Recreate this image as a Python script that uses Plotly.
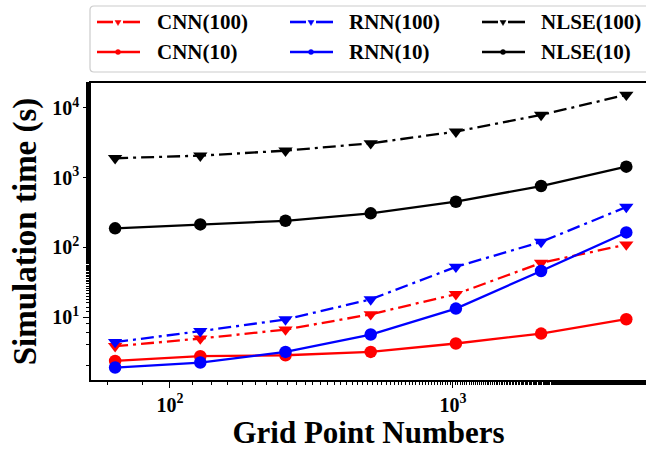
import plotly.graph_objects as go

grid_points = [64, 128, 256, 512, 1024, 2048, 4096]

cnn_100 = [3.84, 4.94, 6.65, 11.0, 21.4, 60, 110]
cnn_10 = [2.36, 2.76, 2.85, 3.18, 4.2, 5.83, 9.36]
rnn_100 = [4.4, 6.3, 9.3, 18.0, 52.7, 120, 380]
rnn_10 = [1.90, 2.24, 3.18, 5.65, 13.3, 46, 164]
nlse_100 = [1900, 2070, 2440, 3110, 4570, 7940, 15400]
nlse_10 = [188, 214, 241, 308, 452, 759, 1440]

x_tick_vals = [100, 1000]
x_tick_text = ["10<sup>2</sup>", "10<sup>3</sup>"]
y_tick_vals = [10, 100, 1000, 10000]
y_tick_text = ["10<sup>1</sup>", "10<sup>2</sup>", "10<sup>3</sup>", "10<sup>4</sup>"]

FONT = "Liberation Serif"
DASHDOT = "13px,5px,3px,5px"

# (name, values, colour, dashed?, symbol, legend column, legend row)
series = [
    ("CNN(100)", cnn_100, "red", True, "triangle-down", 0, 0),
    ("RNN(100)", rnn_100, "blue", True, "triangle-down", 1, 0),
    ("NLSE(100)", nlse_100, "black", True, "triangle-down", 2, 0),
    ("CNN(10)", cnn_10, "red", False, "circle", 0, 1),
    ("RNN(10)", rnn_10, "blue", False, "circle", 1, 1),
    ("NLSE(10)", nlse_10, "black", False, "circle", 2, 1),
]

fig = go.Figure()
for name, vals, color, dashed, sym, col, row in series:
    fig.add_trace(go.Scatter(
        x=grid_points, y=vals, name=name, mode="lines+markers", showlegend=False,
        line=dict(color=color, width=2.3, dash=(DASHDOT if dashed else "solid")),
        marker=dict(symbol=sym, size=12.5, color=color, line=dict(width=0)),
    ))

axis_common = dict(
    type="log",
    showline=True, linecolor="black", linewidth=1.5,
    showgrid=False, zeroline=False,
    ticks="outside", ticklen=6, tickwidth=1, tickcolor="black",
    tickfont=dict(family=FONT, size=20, color="black", weight="bold"),
    minor=dict(ticks="outside", ticklen=3.5, tickwidth=1, tickcolor="black", showgrid=False),
)

fig.update_xaxes(
    **axis_common, mirror=True,
    range=[1.721, 3.682],
    tickmode="array", tickvals=x_tick_vals, ticktext=x_tick_text,
    title=dict(text="Grid Point Numbers", standoff=8,
               font=dict(family=FONT, size=31, color="black", weight="bold")),
)
fig.update_yaxes(
    **axis_common, mirror=False,
    range=[0.1, 4.357],
    tickmode="array", tickvals=y_tick_vals, ticktext=y_tick_text,
    title=dict(text="Simulation time (s)", standoff=6,
               font=dict(family=FONT, size=33, color="black", weight="bold")),
)

# ---- hand-drawn legend (frame runs off the right edge, as in the reference) ----
PX0, PW, PY0, PH = 91, 555, 380, 297  # plot area origin / size in pixels


def px(xp):
    return (xp - PX0) / PW


def py(yp):
    return (PY0 - yp) / PH


shapes = []
annotations = []

x0, x1, y0, y1 = px(90), px(680), py(72), py(6)
rx, ry = 4 / PW, 4 / PH
frame = (f"M{x0+rx},{y1} L{x1},{y1} L{x1},{y0} L{x0+rx},{y0} "
         f"Q{x0},{y0} {x0},{y0+ry} L{x0},{y1-ry} Q{x0},{y1} {x0+rx},{y1} Z")
shapes.append(dict(type="path", path=frame, xref="paper", yref="paper",
                   line=dict(color="#cccccc", width=1.2), fillcolor="white", layer="below"))

col_sym_x = [97, 290, 482]
col_txt_x = [155, 347, 539]
row_y = [22, 52]
SYM_LEN = 43
for name, vals, color, dashed, sym, col, row in series:
    sx, yy = col_sym_x[col], row_y[row]
    mx = sx + 21
    if dashed:
        for a, b in [(sx, sx + 16), (sx + 26, sx + SYM_LEN)]:
            shapes.append(dict(type="line", xref="paper", yref="paper",
                               x0=px(a), x1=px(b), y0=py(yy), y1=py(yy),
                               line=dict(color=color, width=2.6)))
        tri = (f"M{px(mx-3)},{py(yy-1.5)} L{px(mx+3)},{py(yy-1.5)} "
               f"L{px(mx)},{py(yy+3.5)} Z")
        shapes.append(dict(type="path", path=tri, xref="paper", yref="paper",
                           line=dict(color=color, width=0.5), fillcolor=color))
    else:
        shapes.append(dict(type="line", xref="paper", yref="paper",
                           x0=px(sx), x1=px(sx + SYM_LEN), y0=py(yy), y1=py(yy),
                           line=dict(color=color, width=2.6)))
        shapes.append(dict(type="circle", xref="paper", yref="paper",
                           x0=px(mx - 2.5), x1=px(mx + 2.5), y0=py(yy + 2.5), y1=py(yy - 2.5),
                           line=dict(color=color, width=0.5), fillcolor=color))
    annotations.append(dict(text=name, xref="paper", yref="paper",
                            x=px(col_txt_x[col]), y=py(yy), xanchor="left", yanchor="middle",
                            showarrow=False,
                            font=dict(family=FONT, size=21, color="black", weight="bold")))

fig.update_layout(
    width=646, height=450,
    margin=dict(l=91, r=0, t=83, b=70, autoexpand=False),
    paper_bgcolor="white", plot_bgcolor="white",
    font=dict(family=FONT, color="black"),
    showlegend=False,
    shapes=shapes,
    annotations=annotations,
)

fig.write_html("out.html")
